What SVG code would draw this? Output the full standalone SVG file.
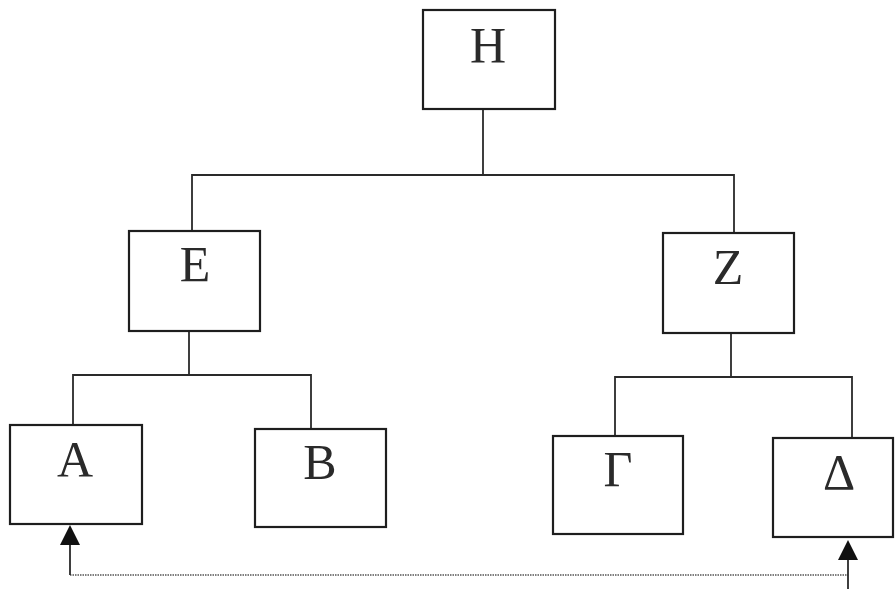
<svg xmlns="http://www.w3.org/2000/svg" width="895" height="589" viewBox="0 0 895 589">
  <style>
    .box { fill: #ffffff; stroke: #1e1e1e; stroke-width: 2.2; }
    .lbl { font-family: "Liberation Serif", "Times New Roman", serif; font-size: 50px; fill: #2a2a2a; text-anchor: middle; }
    .wire { fill: none; stroke: #2a2a2a; stroke-width: 1.8; }
    .dot { fill: none; stroke: #555555; stroke-width: 1.3; stroke-dasharray: 1.5 1; }
    .head { fill: #111111; }
  </style>
  <rect width="895" height="589" fill="#ffffff"/>

  <g id="connectors">
    <!-- H to E / Z -->
    <path class="wire" d="M483,109 V176"/>
    <path class="wire" d="M192,231 V175 H734 V233"/>
    <!-- E to A / B -->
    <path class="wire" d="M189,331 V375"/>
    <path class="wire" d="M73,425 V375 H311 V429"/>
    <!-- Z to Γ / Δ -->
    <path class="wire" d="M731,333 V377"/>
    <path class="wire" d="M615,436 V377 H852 V438"/>
    <!-- return link Δ to A -->
    <path class="dot" d="M70,575 H848"/>
    <line class="wire" x1="848" y1="589" x2="848" y2="560"/>
    <path class="head" d="M838,560 L848,540 L858,560 Z"/>
    <line class="wire" x1="70" y1="575" x2="70" y2="545"/>
    <path class="head" d="M60,545 L70,525 L80,545 Z"/>
  </g>

  <g id="node-H">
    <rect class="box" x="423" y="10" width="132" height="99"/>
    <text class="lbl" x="488" y="62">Η</text>
  </g>
  <g id="node-E">
    <rect class="box" x="129" y="231" width="131" height="100"/>
    <text class="lbl" x="195" y="281">Ε</text>
  </g>
  <g id="node-Z">
    <rect class="box" x="663" y="233" width="131" height="100"/>
    <text class="lbl" x="728" y="284">Ζ</text>
  </g>
  <g id="node-A">
    <rect class="box" x="10" y="425" width="132" height="99"/>
    <text class="lbl" x="75" y="476">Α</text>
  </g>
  <g id="node-B">
    <rect class="box" x="255" y="429" width="131" height="98"/>
    <text class="lbl" x="320" y="479">Β</text>
  </g>
  <g id="node-G">
    <rect class="box" x="553" y="436" width="130" height="98"/>
    <text class="lbl" x="618" y="486">Γ</text>
  </g>
  <g id="node-D">
    <rect class="box" x="773" y="438" width="120" height="99"/>
    <text class="lbl" x="839" y="489">Δ</text>
  </g>
</svg>
